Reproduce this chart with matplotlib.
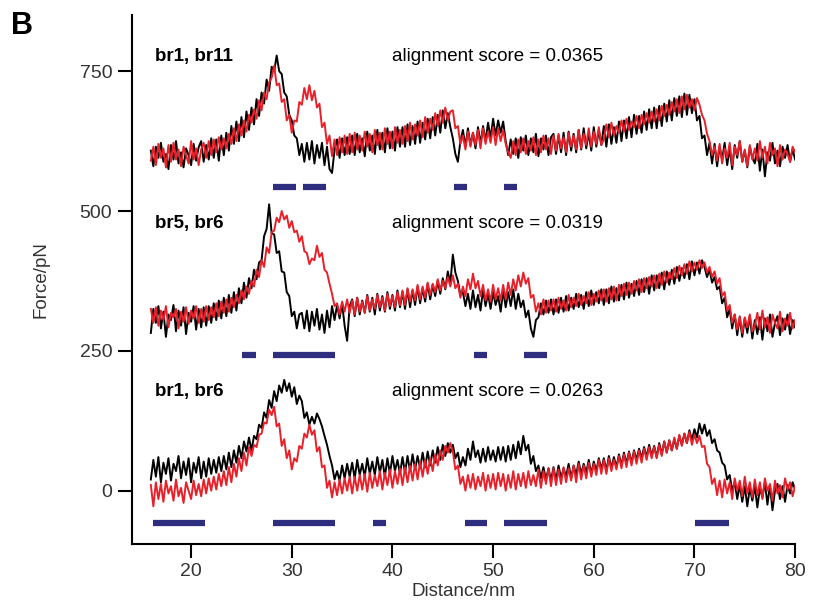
import numpy as np
import matplotlib
matplotlib.use("Agg")
import matplotlib.pyplot as plt

plt.rcParams["font.family"] = ["Liberation Sans", "DejaVu Sans"]

# distance axis: 16 nm to 80 nm, one value every 0.25 nm
distance = np.arange(16.0, 80.001, 0.25)

# force traces (pN) per pair, before the vertical offset; one row = 5 nm
top_black = [
    8, -20, 15, -5, 22, -12, 2, -25, 18, -8, 25, -15, 5, -22, 12, 0, -18, 20, -10, 14,
    25, -12, 18, -8, 30, -5, 28, -10, 35, 0, 40, 8, 52, 20, 60, 25, 68, 32, 78, 45,
    85, 55, 100, 70, 112, 92, 135, 115, 158, 150, 178, 150, 145, 112, 105, 72, 62, 35, 30, 0,
    20, -12, 22, -8, 25, -15, 18, -5, 22, -18, 15, -25, -32, 10, 28, -5, 30, 0, 32, 2,
    35, 0, 38, 5, 30, -2, 42, 8, 35, 2, 45, 10, 40, 5, 48, 12, 42, 8, 50, 15,
    50, 15, 55, 18, 52, 20, 60, 22, 58, 28, 65, 30, 68, 35, 72, 40, 80, 48, 75, 50,
    30, 2, -12, 25, 45, 15, 48, 18, 40, 12, 50, 20, 52, 25, 58, 30, 65, 35, 62, 40,
    60, 25, 0, 28, 2, 30, -5, 32, 8, 35, 0, 30, 5, 38, -2, 30, 10, 35, 0, 32,
    38, 2, 35, 5, 40, 0, 42, 8, 38, 5, 45, 10, 48, 12, 40, 8, 50, 15, 45, 18,
    52, 15, 55, 20, 50, 22, 60, 25, 62, 30, 68, 32, 72, 38, 70, 40, 78, 45, 82, 48,
    85, 48, 88, 52, 92, 60, 98, 62, 102, 70, 105, 68, 110, 72, 108, 75, 100, 62, 70, 30,
    35, 0, 22, -15, 20, -20, 15, -8, 22, -18, 12, -25, 18, -5, 25, -12, 8, -22, 15, -5,
    -15, 20, -28, 10, -38, 5, -10, 22, -15, 8, -20, 15, -5, 18, -12, 10, -8,
]
top_red = [
    -10, 15, -18, 20, -5, 12, -22, 18, -12, 22, -8, 10, -20, 15, 0, -15, 25, -8, 12, -18,
    10, 22, -5, 25, 0, 28, 5, 32, 10, 30, 12, 38, 20, 48, 25, 55, 35, 62, 42, 72,
    58, 82, 65, 98, 80, 112, 100, 130, 138, 160, 125, 128, 95, 100, 62, 72, 40, 62, 60, 95,
    90, 120, 100, 125, 98, 115, 85, 92, 50, 58, 20, 35, -2, 28, 0, 32, 5, 35, 2, 38,
    5, 40, 10, 35, 8, 42, 15, 38, 5, 45, 18, 40, 10, 48, 20, 42, 12, 50, 22, 45,
    20, 52, 25, 58, 28, 55, 35, 62, 32, 68, 40, 65, 45, 75, 52, 80, 58, 85, 62, 78,
    80, 48, 52, 20, 35, 10, 42, 15, 40, 18, 45, 12, 48, 20, 42, 22, 50, 18, 48, 25,
    45, 20, 5, -5, 25, 0, 28, 5, 30, 2, 25, 8, 32, 0, 28, 5, 35, 10, 30, 2,
    35, 8, 38, 12, 32, 5, 40, 15, 35, 10, 45, 12, 38, 18, 48, 15, 42, 20, 50, 18,
    28, 55, 32, 58, 35, 52, 40, 62, 42, 65, 45, 60, 50, 70, 48, 72, 55, 75, 58, 78,
    60, 82, 62, 88, 70, 90, 72, 95, 78, 100, 75, 105, 82, 108, 85, 100, 80, 102, 90, 72,
    62, 38, 25, 0, 15, -10, 20, -15, 12, -5, 22, -18, 15, 0, 25, -12, 10, -20, 18, -8,
    12, -10, 25, -5, 15, -15, 22, 0, 12, -20, 18, -8, 10, 2, -12, 15, 5,
]
mid_black = [
    -18, 25, 0, 30, -10, 20, -25, 15, 5, 32, -15, 22, -5, 28, -20, 18, 2, 30, -12, 25,
    -8, 28, -5, 30, 0, 35, 5, 40, 8, 45, 12, 50, 18, 55, 22, 62, 35, 72, 45, 80,
    62, 95, 78, 108, 112, 155, 168, 212, 160, 158, 125, 128, 92, 90, 55, 48, 12, 20, -10, 15,
    18, -10, 22, -15, 20, -5, 25, -12, 15, -18, 22, -8, 30, 5, 32, 8, 35, -5, -32, 30,
    42, 12, 45, 15, 40, 18, 50, 20, 45, 15, 52, 22, 48, 20, 55, 25, 50, 22, 58, 28,
    55, 25, 60, 28, 58, 32, 65, 35, 62, 38, 70, 42, 68, 48, 75, 52, 80, 60, 92, 70,
    122, 90, 75, 50, 55, 30, 52, 25, 58, 28, 50, 22, 60, 30, 52, 25, 55, 32, 48, 20,
    58, 28, 55, 30, 60, 25, 52, 28, 40, 10, 22, -10, -25, 5, 10, 35, 15, 40, 18, 42,
    15, 42, 18, 45, 20, 48, 22, 45, 25, 52, 28, 50, 25, 55, 30, 58, 32, 55, 35, 60,
    32, 60, 35, 65, 38, 62, 40, 68, 42, 72, 45, 70, 48, 75, 50, 78, 55, 80, 52, 85,
    58, 85, 62, 90, 60, 92, 68, 95, 70, 100, 75, 98, 80, 105, 78, 110, 85, 108, 88, 112,
    100, 82, 95, 72, 82, 60, 65, 35, 45, 10, 25, -10, 15, -22, 10, -25, 8, -18, 12, -28,
    5, -20, 10, -30, 8, -15, 15, -25, 0, 12, -22, 8, -12, 15, -20, 5, -8,
]
mid_red = [
    25, 0, 28, -5, 22, 5, 30, -8, 18, 10, 25, -10, 20, 2, 28, -2, 22, 8, 30, 0,
    25, 2, 30, 5, 28, 10, 35, 12, 38, 18, 42, 20, 45, 28, 50, 35, 58, 42, 65, 52,
    75, 65, 95, 82, 112, 100, 135, 125, 162, 165, 188, 180, 200, 185, 192, 170, 182, 162, 165, 145,
    155, 128, 125, 105, 115, 112, 138, 118, 125, 95, 90, 70, 52, 30, 35, 15, 38, 20, 42, 18,
    40, 15, 45, 20, 38, 18, 48, 22, 42, 25, 50, 28, 45, 22, 52, 30, 48, 28, 55, 32,
    58, 32, 62, 38, 60, 40, 68, 42, 65, 45, 72, 50, 70, 55, 78, 58, 75, 62, 82, 65,
    85, 62, 70, 45, 65, 48, 78, 60, 88, 62, 75, 48, 68, 40, 60, 38, 68, 42, 62, 40,
    68, 42, 72, 50, 78, 58, 85, 65, 90, 70, 80, 45, 50, 20, 35, 15, 42, 18, 40, 22,
    42, 20, 45, 25, 40, 22, 50, 28, 45, 30, 52, 32, 48, 35, 55, 32, 52, 38, 58, 40,
    60, 38, 62, 42, 65, 40, 68, 48, 70, 50, 72, 52, 75, 58, 78, 55, 80, 62, 82, 65,
    85, 62, 88, 68, 92, 72, 90, 78, 98, 80, 102, 85, 105, 88, 110, 92, 108, 95, 112, 98,
    108, 90, 100, 82, 92, 70, 80, 48, 55, 22, 32, 0, 15, -12, 12, -18, 10, -8, 15, -15,
    -5, 18, -12, 22, -8, 10, -18, 15, 0, -10, 20, -15, 8, -5, 18, -10, 5,
]
bot_black = [
    20, 55, 25, 60, 15, 50, 30, 58, 18, 48, 35, 62, 22, 52, 28, 58, 15, 50, 32, 60,
    22, 52, 25, 58, 30, 55, 32, 60, 35, 62, 38, 68, 42, 72, 50, 80, 58, 88, 70, 95,
    72, 98, 92, 118, 112, 140, 130, 162, 148, 178, 160, 188, 175, 198, 178, 192, 168, 185, 155, 170,
    160, 130, 140, 118, 132, 120, 138, 128, 115, 98, 82, 62, 45, 20, 35, 18, 45, 22, 48, 25,
    50, 22, 55, 28, 48, 25, 58, 30, 52, 28, 60, 32, 55, 25, 58, 30, 62, 35, 55, 30,
    60, 32, 62, 35, 65, 38, 62, 40, 68, 42, 70, 45, 72, 50, 78, 55, 82, 62, 85, 68,
    82, 58, 68, 42, 60, 45, 75, 55, 88, 60, 72, 50, 75, 52, 78, 55, 72, 52, 78, 55,
    78, 52, 80, 55, 82, 58, 88, 65, 98, 72, 82, 48, 62, 35, 45, 22, 42, 20, 40, 18,
    42, 18, 45, 22, 40, 25, 48, 22, 45, 28, 52, 30, 48, 32, 55, 30, 52, 35, 58, 38,
    58, 35, 62, 40, 60, 42, 65, 45, 68, 48, 70, 50, 72, 55, 75, 58, 78, 60, 82, 62,
    80, 60, 85, 65, 88, 68, 90, 72, 92, 75, 98, 82, 102, 85, 108, 90, 110, 95, 120, 102,
    118, 98, 108, 85, 92, 72, 68, 50, 45, 20, 28, 0, 15, -15, 10, -20, 8, -28, 5, -18,
    8, -30, 5, -12, 15, -25, 10, -35, 0, 12, -15, 8, -20, 10, -5, 15, 2,
]
bot_red = [
    10, -28, 15, -15, 12, -20, 18, -5, 8, -18, 20, -10, 5, -22, 15, 0, -15, 18, -8, 12,
    -10, 20, -5, 22, 0, 25, 2, 30, 8, 35, 10, 42, 15, 48, 25, 58, 35, 68, 45, 78,
    62, 82, 78, 100, 102, 122, 120, 145, 135, 150, 115, 120, 80, 92, 58, 72, 38, 58, 52, 80,
    75, 102, 95, 118, 100, 108, 70, 78, 42, 45, 5, 18, -12, 15, -8, 20, -5, 22, 0, 25,
    -5, 25, 0, 28, 2, 30, -2, 32, 5, 28, 8, 35, 2, 32, 10, 38, 5, 35, 12, 40,
    10, 42, 15, 45, 18, 48, 20, 52, 25, 55, 30, 58, 35, 65, 45, 72, 55, 80, 68, 85,
    70, 38, 45, 12, 25, 0, 28, 5, 30, 2, 25, 8, 32, 0, 28, 5, 30, 2, 32, 8,
    30, 0, 28, 5, 35, 2, 30, 8, 32, 5, 35, 10, 28, 8, 38, 5, 35, 12, 40, 8,
    40, 10, 38, 12, 42, 15, 40, 18, 45, 15, 48, 20, 45, 22, 50, 25, 48, 28, 55, 30,
    55, 30, 58, 35, 55, 38, 62, 40, 65, 42, 68, 45, 70, 48, 72, 50, 75, 55, 78, 58,
    78, 58, 82, 62, 88, 68, 90, 72, 95, 75, 100, 80, 102, 85, 105, 82, 100, 85, 98, 78,
    80, 48, 42, 12, 22, -8, 18, -12, 20, -5, 15, -15, 22, 0, 18, -10, 25, -5, 15, -12,
    20, -8, 15, -15, 22, 0, 12, -18, 18, -5, 10, -12, 22, 2, 15, -10, 8,
]

pair_names = ["br1, br11", "br5, br6", "br1, br6"]
scores = ["0.0365", "0.0319", "0.0263"]
offsets = [600, 300, 0]
black_traces = [top_black, mid_black, bot_black]
red_traces = [top_red, mid_red, bot_red]

# aligned regions (start, end in nm)
bars = [
    [(28.1, 30.4), (31.1, 33.4), (46.1, 47.4), (51.1, 52.4)],
    [(25.1, 26.4), (28.1, 34.3), (48.1, 49.4), (53.1, 55.4)],
    [(16.2, 21.4), (28.1, 34.3), (38.1, 39.4), (47.2, 49.4),
     (51.1, 55.4), (70.1, 73.4)],
]

fig = plt.figure(figsize=(8.13, 6.11), dpi=100)
ax = fig.add_axes([0.162, 0.110, 0.816, 0.865])

for k in range(3):
    off = offsets[k]
    ax.plot(distance, np.array(black_traces[k]) + off, color="black", lw=1.4)
    ax.plot(distance, np.array(red_traces[k]) + off, color="#e8202a", lw=1.4)
    for x0, x1 in bars[k]:
        ax.hlines(off - 57, x0, x1, color="#2e2d80", lw=4.5)
    ax.text(16.4, off + 177, pair_names[k], fontsize=13.5, fontweight="bold",
            va="center")
    ax.text(40.0, off + 177, "alignment score = " + scores[k], fontsize=13.5,
            va="center")

ax.set_xlim(14.1, 80)
ax.set_ylim(-95, 850)
ax.set_xticks([20, 30, 40, 50, 60, 70, 80])
ax.set_yticks([0, 250, 500, 750])
ax.spines["top"].set_visible(False)
ax.spines["right"].set_visible(False)
ax.spines["left"].set_linewidth(1.5)
ax.spines["bottom"].set_linewidth(1.5)
ax.tick_params(direction="out", length=10, width=1.5, labelsize=14,
               labelcolor="#333333", pad=4)
ax.set_xlabel("Distance/nm", fontsize=13.5, color="#333333", labelpad=2)
ax.set_ylabel("Force/pN", fontsize=13.5, color="#333333", labelpad=22)

fig.text(0.013, 0.945, "B", fontsize=22, fontweight="bold")

fig.savefig("out.png", dpi=100)
